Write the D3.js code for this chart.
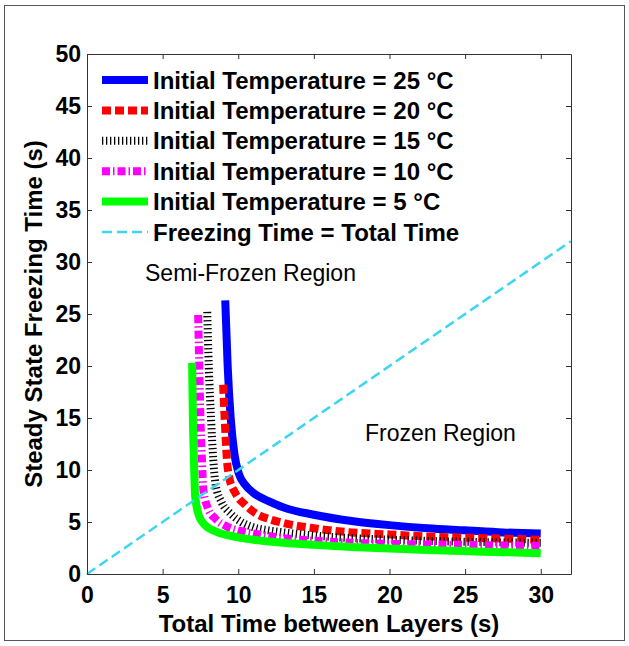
<html>
<head>
<script src="https://d3js.org/d3.v7.min.js"></script>
<style>
body { margin: 0; background: #fff; }
text { font-family: "Liberation Sans", Arial, sans-serif; }
</style>
</head>
<body>
<svg width="629" height="646"></svg>
<script>
// data: [total time between layers, steady freezing time]
var t25 = [[9.14,26.3],[9.3,20],[9.5,15],[9.75,11.5],[10.05,9.6],[10.5,8.5],[11,7.8],[12,7.0],[13,6.4],[15,5.7],[17.5,5.1],[20,4.7],[22.5,4.4],[25,4.2],[27.5,4.0],[30,3.9]];
var t20 = [[9.0,18.2],[9.1,15],[9.25,11],[9.4,9.3],[9.8,7.8],[10.5,6.6],[11.3,5.7],[12,5.3],[13,4.9],[15,4.4],[17.5,4.0],[20,3.8],[22.5,3.6],[25,3.5],[27.5,3.4],[30,3.3]];
var t15 = [[7.95,25.2],[8.05,20],[8.2,15],[8.35,11],[8.5,8.6],[8.9,6.9],[9.5,5.8],[10.2,5.0],[11,4.5],[12,4.2],[13,4.0],[15,3.7],[17.5,3.45],[20,3.3],[25,3.1],[30,3.0]];
var t10 = [[7.35,24.9],[7.42,20],[7.5,15],[7.6,11],[7.7,8.0],[8.0,6.3],[8.5,5.3],[9.2,4.6],[10,4.2],[11,3.9],[13,3.45],[15,3.2],[17.5,3.0],[20,2.9],[25,2.8],[30,2.7]];
var t5  = [[6.95,20.3],[7.0,15],[7.07,11],[7.15,7.5],[7.4,5.6],[7.8,4.7],[8.5,4.1],[9.9,3.55],[11,3.3],[13,3.0],[15,2.8],[17.5,2.6],[20,2.45],[22.5,2.3],[25,2.2],[27.5,2.1],[30,2.0]];
var equalLine = [[0,0],[32,32]];

var seriesNames = ["Initial Temperature = 25 °C", "Initial Temperature = 20 °C", "Initial Temperature = 15 °C",
                   "Initial Temperature = 10 °C", "Initial Temperature = 5 °C", "Freezing Time = Total Time"];
var xTicks = [0, 5, 10, 15, 20, 25, 30];
var yTicks = [0, 5, 10, 15, 20, 25, 30, 35, 40, 45, 50];

var series = [
  {data: t25, color: "#0000ff", width: 8, dash: null},
  {data: t20, color: "#ff0000", width: 8, dash: "9,4"},
  {data: t15, color: "#000000", width: 8, dash: "1.3,2.7"},
  {data: t10, color: "#ff00ff", width: 8, dash: "8,3,1.5,3"},
  {data: t5,  color: "#00ff00", width: 8, dash: null},
  {data: equalLine, color: "#3cd6f0", width: 2.5, dash: "10,5"}
];

var svg = d3.select("svg");
var mLeft = 87, mRight = 571, mTop = 54, mBottom = 574;

// outer frame
svg.append("rect").attr("x", 4.5).attr("y", 5.5).attr("width", 620).attr("height", 635)
  .attr("fill", "none").attr("stroke", "#555").attr("stroke-width", 1);

var x = d3.scaleLinear().domain([0, 32]).range([mLeft, mRight]);
var y = d3.scaleLinear().domain([0, 50]).range([mBottom, mTop]);

var plot = svg.append("g");
plot.selectAll("path.curve")
  .data(series)
  .enter().append("path")
  .attr("class", "curve")
  .attr("fill", "none")
  .attr("stroke", d => d.color)
  .attr("stroke-width", d => d.width)
  .attr("stroke-dasharray", d => d.dash)
  .attr("d", d => d3.line().x(p => x(p[0])).y(p => y(p[1])).curve(d3.curveMonotoneX)(d.data));

// axes, ticks inside like matlab
var ax = svg.append("g");
ax.append("g").attr("transform", "translate(0," + mBottom + ")")
  .call(d3.axisBottom(x).tickValues(xTicks).tickSizeInner(-5).tickSizeOuter(0).tickPadding(13));
ax.append("g").attr("transform", "translate(0," + mTop + ")")
  .call(d3.axisTop(x).tickValues(xTicks).tickSizeInner(-5).tickSizeOuter(0).tickFormat(""));
ax.append("g").attr("transform", "translate(" + mLeft + ",0)")
  .call(d3.axisLeft(y).tickValues(yTicks).tickSizeInner(-5).tickSizeOuter(0).tickPadding(6));
ax.append("g").attr("transform", "translate(" + mRight + ",0)")
  .call(d3.axisRight(y).tickValues(yTicks).tickSizeInner(-5).tickSizeOuter(0).tickFormat(""));
ax.selectAll("path.domain").attr("stroke", "#333");
ax.selectAll(".tick line").attr("stroke", "#333");
ax.selectAll("text").attr("font-family", "Liberation Sans, Arial, sans-serif")
  .attr("font-weight", "bold").attr("font-size", 23).attr("fill", "#000");

svg.append("text").attr("x", (mLeft + mRight) / 2).attr("y", 632)
  .attr("text-anchor", "middle").attr("font-weight", "bold").attr("font-size", 24)
  .text("Total Time between Layers (s)");
svg.append("text").attr("transform", "translate(42," + (mTop + mBottom) / 2 + ") rotate(-90)")
  .attr("text-anchor", "middle").attr("font-weight", "bold").attr("font-size", 24)
  .text("Steady State Freezing Time (s)");

// legend
var legend = svg.append("g").selectAll("g").data(series).enter().append("g")
  .attr("transform", (d, i) => "translate(0," + (80 + i * 30.4) + ")");
legend.append("line").attr("x1", 102).attr("x2", 148)
  .attr("stroke", d => d.color).attr("stroke-width", d => d.width)
  .attr("stroke-dasharray", d => d.dash);
legend.append("text").attr("x", 153).attr("y", 8.5)
  .attr("font-weight", "bold").attr("font-size", 24)
  .text((d, i) => seriesNames[i]);

svg.append("text").attr("x", 145).attr("y", 281).attr("font-size", 23).text("Semi-Frozen Region");
svg.append("text").attr("x", 365).attr("y", 441).attr("font-size", 23).text("Frozen Region");
</script>
</body>
</html>
